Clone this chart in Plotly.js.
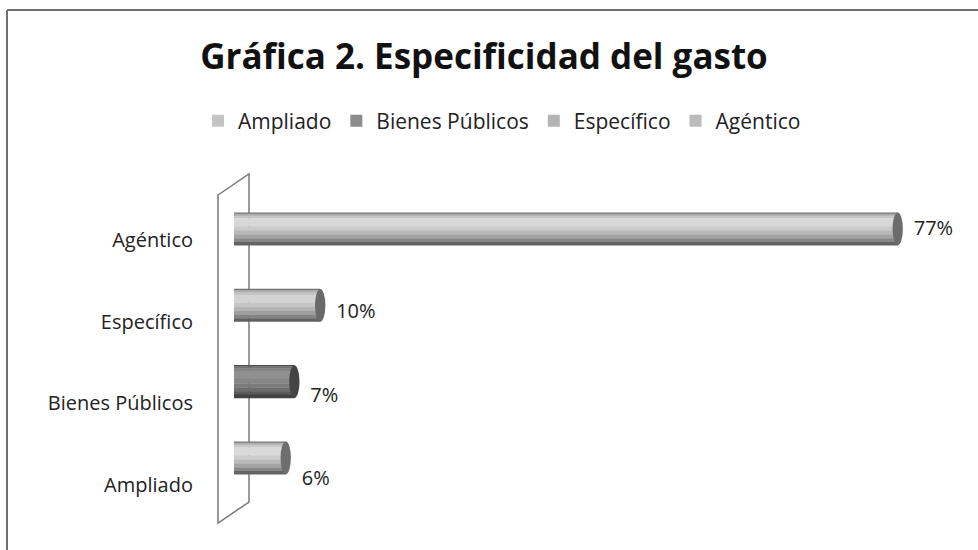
<!DOCTYPE html>
<html>
<head>
<meta charset="utf-8">
<script src="https://cdn.plot.ly/plotly-3.0.1.min.js"></script>
<style>html,body{margin:0;padding:0;background:#fff;}#chart{width:978px;height:550px;}</style>
</head>
<body>
<div id="chart"></div>
<script>
// ---- data ----
const categories = ["Ampliado", "Bienes Públicos", "Específico", "Agéntico"];
const values = [6, 7, 10, 77];
const labels = ["6%", "7%", "10%", "77%"];
const legendColors = ["#c4c4c4", "#8c8c8c", "#b4b4b4", "#bcbcbc"];
const shadeFactor = [1.0, 0.66, 0.97, 0.99];   // darker tone for "Bienes Públicos"
const capColors = ["#6e6e6e", "#444444", "#6a6a6a", "#6c6c6c"];

// cylinder shading bands (fraction from top edge to bottom edge, grey level)
const bandStops = [0, 0.04, 0.1, 0.18, 0.42, 0.56, 0.68, 0.80, 0.90, 1.0];
const bandGrey = [118, 176, 200, 218, 204, 186, 164, 136, 100];

const FONT = "'Open Sans', 'Noto Sans', sans-serif";
const idx = categories.map((c, i) => i);
const traces = [];
const shapes = [];
const BW = 0.43; // bar thickness in category units

categories.forEach((cat, i) => {
  for (let b = 0; b < bandGrey.length; b++) {
    const g = Math.round(bandGrey[b] * shadeFactor[i]);
    const top = BW / 2 - bandStops[b] * BW;
    const bot = BW / 2 - bandStops[b + 1] * BW;
    traces.push({type: "bar", orientation: "h", x: [values[i]], y: [i],
      width: top - bot + 0.004, offset: bot - 0.002,
      marker: {color: `rgb(${g},${g},${g})`, line: {width: 0}},
      showlegend: false, hoverinfo: "skip"});
  }
  const rx = 0.6;
  shapes.push({type: "circle", xref: "x", yref: "y", x0: values[i] - rx, x1: values[i] + rx,
    y0: i - BW / 2, y1: i + BW / 2, fillcolor: capColors[i], line: {width: 0}, layer: "above"});
});

// legend entries
categories.forEach((cat, i) => {
  traces.push({type: "bar", orientation: "h", x: [null], y: [null], name: cat,
    marker: {color: legendColors[i]}, showlegend: true, hoverinfo: "skip"});
});

// value labels
traces.push({type: "scatter", mode: "markers+text", x: values, y: idx, yaxis: "y3",
  text: labels, textposition: "middle right", cliponaxis: false,
  marker: {size: 24, color: "rgba(0,0,0,0)"},
  textfont: {family: FONT, size: 20, color: "#222"}, showlegend: false, hoverinfo: "skip"});
// carrier for the category label axis
traces.push({type: "scatter", mode: "markers", x: values, y: idx, yaxis: "y2",
  marker: {size: 1, color: "rgba(0,0,0,0)"}, showlegend: false, hoverinfo: "skip"});

// decorative 3D wall (paper coords of the plot area: l=229,t=175,w=700,h=350)
const px = v => (v - 229) / 700, py = v => (525 - v) / 350;
shapes.push({type: "path", xref: "paper", yref: "paper", layer: "below",
  path: `M ${px(218)} ${py(195)} L ${px(249)} ${py(174)} L ${px(249)} ${py(502)} L ${px(218)} ${py(523)} Z`,
  line: {color: "#7a7a7a", width: 1.5}, fillcolor: "rgba(0,0,0,0)"});
// outer frame (top and left)
shapes.push({type: "line", xref: "paper", yref: "paper", x0: px(7), x1: px(990), y0: py(10), y1: py(10),
  line: {color: "#707070", width: 2}});
shapes.push({type: "line", xref: "paper", yref: "paper", x0: px(7), x1: px(7), y0: py(10), y1: py(560),
  line: {color: "#707070", width: 2}});

const layout = {
  width: 978, height: 550,
  margin: {l: 229, r: 49, t: 175, b: 25},
  paper_bgcolor: "#fff", plot_bgcolor: "rgba(0,0,0,0)",
  barmode: "overlay",
  font: {family: FONT, size: 20, color: "#222"},
  title: {text: "<b>Gráfica 2. Especificidad del gasto</b>", font: {family: FONT, size: 35, color: "#111"},
    xref: "container", x: 484 / 978, xanchor: "center", yref: "container", y: 1 - 57 / 550, yanchor: "middle"},
  showlegend: true,
  legend: {orientation: "h", xref: "container", x: 502 / 978, xanchor: "center", yref: "container", y: 1 - 121 / 550, yanchor: "middle",
    font: {family: FONT, size: 21, color: "#222"}, traceorder: "normal", itemclick: false},
  xaxis: {range: [-0.58, 80.63], showgrid: false, zeroline: false, showline: false, showticklabels: false, ticks: ""},
  yaxis: {range: [-0.878, 3.707], showgrid: false, zeroline: false, showline: false, showticklabels: false, ticks: ""},
  yaxis2: {overlaying: "y", range: [-0.49, 3.796], tickmode: "array", tickvals: idx, ticktext: categories,
    showgrid: false, zeroline: false, showline: false, ticks: "", ticklabelstandoff: 35,
    tickfont: {family: FONT, size: 20, color: "#222"}},
  yaxis3: {overlaying: "y", range: [-0.54, 3.66], visible: false},
  shapes: shapes
};

Plotly.newPlot("chart", traces, layout, {displayModeBar: false, staticPlot: true});
</script>
</body>
</html>
